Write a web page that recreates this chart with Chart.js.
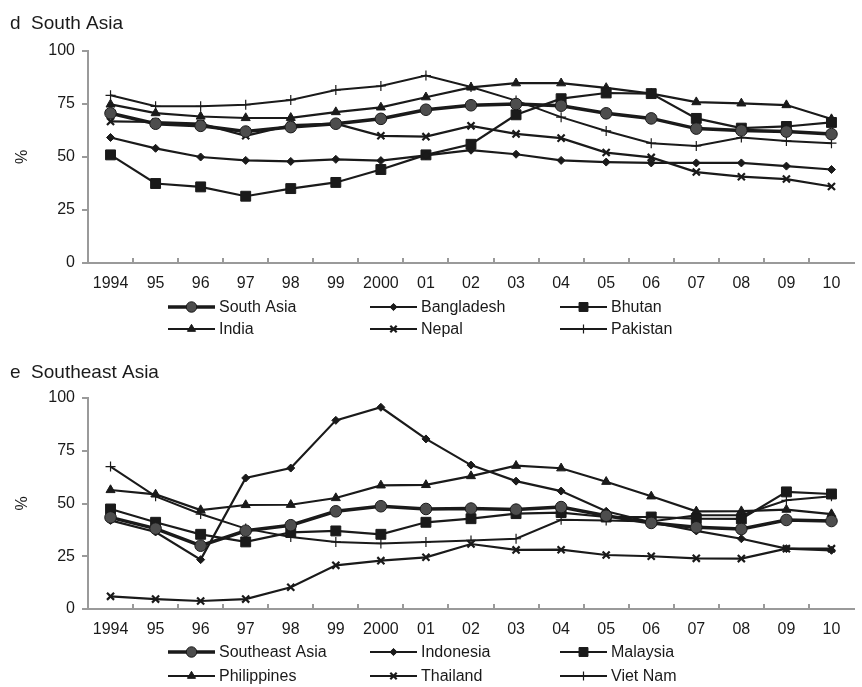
<!DOCTYPE html>
<html><head><meta charset="utf-8">
<script src="https://cdn.jsdelivr.net/npm/chart.js@4.4.1/dist/chart.umd.min.js"></script>
<style>
body{margin:0;background:#fff;width:862px;height:687px;overflow:hidden}
canvas{position:absolute;left:0}
</style>
</head><body>
<canvas id="c1" width="862" height="343" style="top:0"></canvas>
<canvas id="c2" width="862" height="344" style="top:343px"></canvas>
<script>
const years = ['1994','95','96','97','98','99','2000','01','02','03','04','05','06','07','08','09','10'];
const yTicks = [0,25,50,75,100];

// Panel d: South Asia
const southAsia  = [70.6,65.7,64.7,62.0,64.1,65.7,68.0,72.3,74.4,75.0,74.2,70.6,68.2,63.4,62.5,62.0,60.8];
const bangladesh = [59.2,54.1,50.0,48.4,47.9,48.9,48.3,50.8,53.2,51.3,48.4,47.6,47.2,47.2,47.2,45.7,44.1];
const bhutan     = [51.0,37.5,35.9,31.5,35.1,38.0,44.1,51.0,56.0,69.9,77.5,80.2,79.9,68.2,63.6,64.4,66.3];
const india      = [74.8,70.7,69.1,68.4,68.5,71.2,73.4,78.2,82.8,84.8,84.8,82.6,79.9,75.9,75.3,74.5,67.9];
const nepal      = [66.8,66.5,65.7,60.0,65.0,65.7,60.0,59.6,64.7,60.9,58.9,52.1,49.8,42.9,40.7,39.6,36.1];
const pakistan   = [79.1,73.9,73.9,74.7,76.9,81.6,83.5,88.4,83.0,76.6,68.8,62.3,56.5,55.2,59.2,57.6,56.5];

// Panel e: Southeast Asia
const seAsia      = [43.4,38.1,30.0,37.1,39.7,46.3,48.7,47.4,47.6,47.1,48.3,44.2,40.8,38.7,37.9,42.2,41.7];
const indonesia   = [42.0,36.5,23.4,62.1,66.8,89.4,95.6,80.6,68.2,60.6,55.9,46.3,41.1,37.0,33.3,28.6,27.8];
const malaysia    = [47.4,41.1,35.4,31.8,36.3,37.0,35.4,41.1,42.8,45.2,45.7,43.6,43.6,42.8,42.7,55.5,54.5];
const philippines = [56.4,54.3,46.9,49.3,49.4,52.6,58.6,58.8,63.0,67.9,66.7,60.3,53.4,46.3,46.4,47.1,45.0];
const thailand    = [6.0,4.7,3.8,4.7,10.3,20.7,22.9,24.5,30.8,28.0,28.1,25.6,25.0,24.0,23.9,28.6,28.6];
const vietNam     = [67.5,53.4,45.0,38.1,34.1,31.8,31.1,31.8,32.5,33.3,42.3,41.9,41.5,44.4,44.4,51.5,53.4];

const FONT = "'Liberation Sans', Arial, Helvetica, sans-serif";
const INK = '#1a1a1a';
const AXIS = '#9a9a9a';

const styles = [
  {pointStyle:'circle', radius:5.8, width:3.5, fill:'#4d4d4d'},
  {pointStyle:'rectRot', radius:4, width:2.2, fill:INK},
  {pointStyle:'rect', radius:7, width:2.2, fill:INK},
  {pointStyle:'triangle', radius:5.2, width:2.2, fill:INK},
  {pointStyle:'crossRot', radius:5, width:2.2, fill:INK},
  {pointStyle:'cross', radius:5, width:2, fill:INK}
];

function makeDatasets(names, series){
  return names.map((n,i)=>{
    const s = styles[i];
    return {
      label:n, data:series[i],
      borderColor:INK, borderWidth:s.width,
      pointStyle:s.pointStyle, pointRadius:s.radius, pointHoverRadius:s.radius,
      pointBackgroundColor:s.fill, pointBorderColor:INK,
      pointBorderWidth: (s.pointStyle==='crossRot')?2.2:(s.pointStyle==='cross'?1.2:1),
      tension:0, fill:false
    };
  });
}

const panelPlugin = {
  id:'panel',
  afterDraw(chart, args, opts){
    const ctx = chart.ctx;
    const ca = chart.chartArea;
    ctx.save();
    // title
    ctx.fillStyle = INK;
    ctx.font = "19px " + FONT;
    ctx.textBaseline = 'middle';
    ctx.textAlign = 'left';
    ctx.fillText(opts.title, 10, opts.titleY);
    // inward x ticks at category boundaries
    const xs = chart.scales.x;
    const n = chart.data.labels.length;
    ctx.strokeStyle = AXIS; ctx.lineWidth = 2;
    for (let i=1;i<n;i++){
      const xp = Math.round((xs.getPixelForValue(i-1)+xs.getPixelForValue(i))/2);
      ctx.beginPath(); ctx.moveTo(xp, ca.bottom); ctx.lineTo(xp, ca.bottom-5); ctx.stroke();
    }
    // legend
    const cols = [168, 370, 560];
    ctx.font = "16px " + FONT;
    chart.data.datasets.forEach((ds,i)=>{
      const col = i%3, row = Math.floor(i/3);
      const x0 = cols[col], y = opts.legendY[row];
      ctx.strokeStyle = INK; ctx.lineWidth = ds.borderWidth;
      ctx.beginPath(); ctx.moveTo(x0, y); ctx.lineTo(x0+47, y); ctx.stroke();
      const r = ds.pointRadius * 0.9;
      ctx.fillStyle = ds.pointBackgroundColor; ctx.strokeStyle = INK;
      ctx.lineWidth = ds.pointBorderWidth;
      Chart.helpers.drawPoint(ctx, {pointStyle: ds.pointStyle, radius: r, rotation:0, borderWidth: ds.pointBorderWidth}, x0+23.5, y);
      ctx.fillStyle = INK;
      ctx.fillText(ds.label, x0+51, y+1);
    });
    ctx.restore();
  }
};

function makeChart(id, names, series, cfg){
  return new Chart(document.getElementById(id), {
    type:'line',
    data:{labels:years, datasets:makeDatasets(names, series)},
    options:{
      responsive:false, animation:false, devicePixelRatio:1,
      layout:{padding:{top:cfg.top, left:0, right:0, bottom:cfg.bottom}},
      plugins:{legend:{display:false}, tooltip:{enabled:false}, title:{display:false},
        panel:{title:cfg.title, titleY:cfg.titleY, legendY:cfg.legendY}},
      scales:{
        x:{
          offset:true,
          grid:{display:true, drawOnChartArea:false, drawTicks:false, offset:true},
          border:{display:true, color:AXIS, width:2},
          ticks:{color:INK, font:{size:16, family:FONT}, padding:11, maxRotation:0, autoSkip:false},
          afterFit(s){ s.height = 30; }
        },
        y:{
          min:0, max:100,
          afterBuildTicks(s){ s.ticks = yTicks.map(v=>({value:v})); },
          grid:{display:true, drawOnChartArea:false, drawTicks:true, tickLength:6, color:AXIS, lineWidth:2},
          border:{display:true, color:AXIS, width:2},
          ticks:{color:INK, font:{size:16, family:FONT}, padding:7},
          title:{display:true, text:'%', color:INK, font:{size:16, family:FONT}, padding:{top:13,bottom:0}},
          afterFit(s){ s.width = 88; }
        }
      }
    },
    plugins:[panelPlugin]
  });
}

makeChart('c1', ['South Asia','Bangladesh','Bhutan','India','Nepal','Pakistan'],
  [southAsia,bangladesh,bhutan,india,nepal,pakistan],
  {top:51, bottom:50, title:'d  South Asia', titleY:24, legendY:[307,329]});
makeChart('c2', ['Southeast Asia','Indonesia','Malaysia','Philippines','Thailand','Viet Nam'],
  [seAsia,indonesia,malaysia,philippines,thailand,vietNam],
  {top:55, bottom:48, title:'e  Southeast Asia', titleY:30, legendY:[309,333]});
</script>
</body></html>
